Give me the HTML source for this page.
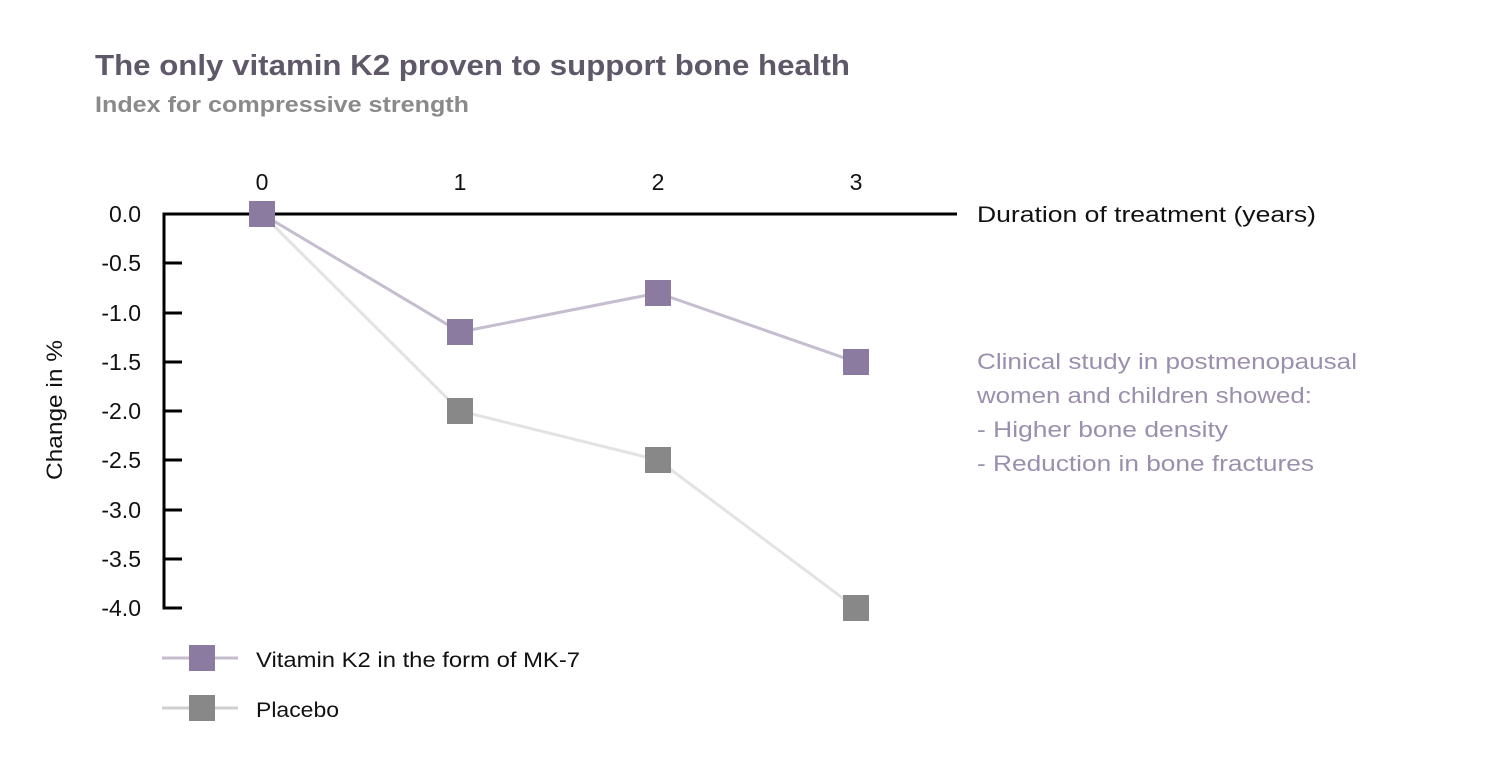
<!DOCTYPE html>
<html><head><meta charset="utf-8"><style>
body{margin:0;background:#fff;width:1500px;height:762px;overflow:hidden}
svg text{font-family:"Liberation Sans",sans-serif}
</style></head><body>
<svg width="1500" height="762" viewBox="0 0 1500 762">
<text x="95" y="75" font-size="29" font-weight="bold" fill="#5e5868" textLength="755" lengthAdjust="spacingAndGlyphs">The only vitamin K2 proven to support bone health</text>
<text x="95" y="112" font-size="22" font-weight="bold" fill="#8a8a8a" textLength="374" lengthAdjust="spacingAndGlyphs">Index for compressive strength</text>
<g stroke="#000" stroke-width="3" fill="none">
<line x1="164" y1="214" x2="957" y2="214"/>
<line x1="164" y1="212.5" x2="164" y2="609.5"/>
<line x1="164" y1="263" x2="182" y2="263"/><line x1="164" y1="313" x2="182" y2="313"/>
<line x1="164" y1="362" x2="182" y2="362"/><line x1="164" y1="411" x2="182" y2="411"/>
<line x1="164" y1="460" x2="182" y2="460"/><line x1="164" y1="510" x2="182" y2="510"/>
<line x1="164" y1="559" x2="182" y2="559"/><line x1="164" y1="608" x2="182" y2="608"/>
</g>
<g font-size="23" fill="#111" text-anchor="end">
<text x="141" y="222">0.0</text><text x="141" y="271">-0.5</text><text x="141" y="321">-1.0</text>
<text x="141" y="370">-1.5</text><text x="141" y="419">-2.0</text><text x="141" y="468">-2.5</text>
<text x="141" y="518">-3.0</text><text x="141" y="567">-3.5</text><text x="141" y="616">-4.0</text>
</g>
<g font-size="23" fill="#111" text-anchor="middle">
<text x="262" y="190">0</text><text x="460" y="190">1</text><text x="658" y="190">2</text><text x="856" y="190">3</text>
</g>
<text x="977" y="222" font-size="22" fill="#111" textLength="339" lengthAdjust="spacingAndGlyphs">Duration of treatment (years)</text>
<text transform="translate(62,410) rotate(-90)" font-size="22" fill="#111" text-anchor="middle" textLength="140" lengthAdjust="spacingAndGlyphs">Change in %</text>
<polyline points="262,214 460,411 658,460 856,608" fill="none" stroke="#e3e3e3" stroke-width="3"/>
<polyline points="262,214 460,332 658,293 856,362" fill="none" stroke="#c6bdd0" stroke-width="3"/>
<g fill="#888">
<rect x="447" y="398" width="26" height="26"/><rect x="645" y="447" width="26" height="26"/><rect x="843" y="595" width="26" height="26"/>
</g>
<g fill="#8b7ba1">
<rect x="249" y="201" width="26" height="26"/><rect x="447" y="319" width="26" height="26"/><rect x="645" y="280" width="26" height="26"/><rect x="843" y="349" width="26" height="26"/>
</g>
<g font-size="22" fill="#9b8fae" lengthAdjust="spacingAndGlyphs">
<text x="977" y="369" textLength="380" lengthAdjust="spacingAndGlyphs">Clinical study in postmenopausal</text>
<text x="977" y="403" textLength="335" lengthAdjust="spacingAndGlyphs">women and children showed:</text>
<text x="977" y="437" textLength="251" lengthAdjust="spacingAndGlyphs">- Higher bone density</text>
<text x="977" y="471" textLength="337" lengthAdjust="spacingAndGlyphs">- Reduction in bone fractures</text>
</g>
<line x1="162" y1="658" x2="238" y2="658" stroke="#c6bdd0" stroke-width="3"/>
<rect x="189" y="645" width="26" height="26" fill="#8b7ba1"/>
<line x1="162" y1="708" x2="238" y2="708" stroke="#cfcfcf" stroke-width="3"/>
<rect x="189" y="695" width="26" height="26" fill="#888"/>
<text x="256" y="667" font-size="21" fill="#111" textLength="324" lengthAdjust="spacingAndGlyphs">Vitamin K2 in the form of MK-7</text>
<text x="256" y="717" font-size="21" fill="#111" textLength="83" lengthAdjust="spacingAndGlyphs">Placebo</text>
</svg>
</body></html>
